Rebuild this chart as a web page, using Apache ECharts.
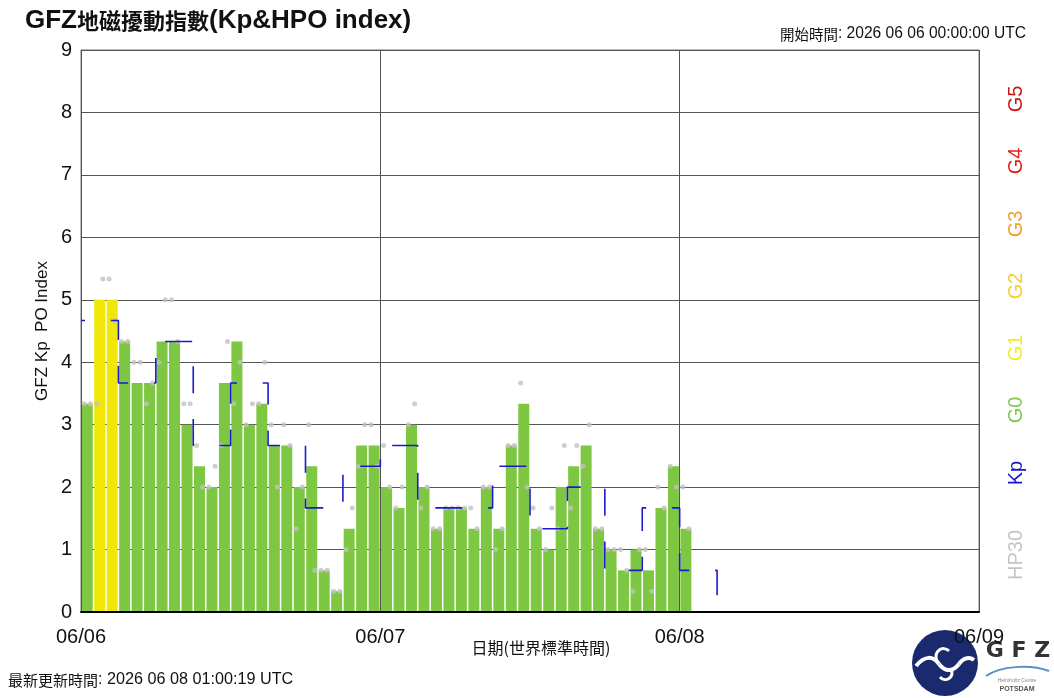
<!DOCTYPE html>
<html>
<head>
<meta charset="utf-8">
<script src="https://cdn.jsdelivr.net/npm/echarts@6/dist/echarts.min.js"></script>
<style>
html,body{margin:0;padding:0;background:#fff;}
#c{width:1054px;height:698px;}
</style>
</head>
<body>
<div id="c"></div>
<script>
// ---- data (hours counted from 2026-06-06 00:00 UTC) ----
const dayLabels = ['06/06', '06/07', '06/08', '06/09'];
// HP60 (hourly) – bars
const hp60 = [3.333, 5, 5, 4.333, 3.667, 3.667, 4.333, 4.333, 3, 2.333,
  2, 3.667, 4.333, 3, 3.333, 2.667, 2.667, 2, 2.333, 0.667,
  0.333, 1.333, 2.667, 2.667, 2, 1.667, 3, 2, 1.333, 1.667,
  1.667, 1.333, 2, 1.333, 2.667, 3.333, 1.333, 1, 2, 2.333,
  2.667, 1.333, 1, 0.667, 1, 0.667, 1.667, 2.333, 1.333];
// HP30 (half-hourly) – grey dots
const hp30 = [3.333, 3.333, 3.333, 5.333, 5.333, 4.667, 4.333, 4.333, 4, 4,
  3.333, 3.667, 4, 5, 5, 4.333, 3.333, 3.333, 2.667, 2,
  2, 2.333, 2.667, 4.333, 3.333, 4, 3, 3.333, 3.333, 4,
  3, 2, 3, 2.667, 1.333, 2, 3, 0.667, 0.667, 0.667,
  0.333, 0.333, 1, 1.667, 2.333, 3, 3, 2.333, 2.667, 2,
  1.667, 2, 3, 3.333, 1.667, 2, 1.333, 1.333, 1.667, 1.667,
  1.667, 1.667, 1.667, 1.333, 2, 2, 1, 1.333, 2.667, 2.667,
  3.667, 2, 1.667, 1.333, 1, 1.667, 1.333, 2.667, 1.667, 2.667,
  2.333, 3, 1.333, 1.333, 1, 1, 1, 0.667, 0.333, 1,
  1, 0.333, 2, 1.667, 2.333, 2, 2, 1.333];
// Kp (3-hourly) – blue step line
const kp = [4.667, 3.667, 4.333, 2.667, 3.667, 2.667, 1.667, 2.333,
  2.667, 1.667, 1.667, 2.333, 1.333, 2, 0.667, 1.667,
  0.667, 0];
const sideLabels = ['G5', 'G4', 'G3', 'G2', 'G1', 'G0', 'Kp', 'HP30'];
const sideColors = ['#d01414', '#e81c1c', '#f0a030', '#f5cf2c', '#eeee22', '#80c850', '#1414d0', '#c4c4c4'];
const sideCenters = [99, 161, 224, 286, 348, 410, 473, 555];

function gColor(v) {
  if (v >= 9) return '#a00000';
  if (v >= 8) return '#e01010';
  if (v >= 7) return '#f08020';
  if (v >= 6) return '#f5c518';
  if (v >= 5) return '#f0e60a';
  return '#7ec742';
}

const barData = hp60.map((v, i) => ({ value: [i + 0.5, v], itemStyle: { color: gColor(v) } }));
const dotData = hp30.map((v, i) => [i * 0.5 + 0.25, v]);
const kpData = kp.map((v, i) => [i * 3, v]);

const chart = echarts.init(document.getElementById('c'), null, { renderer: 'canvas' });

function curve(x1, y1, c1x, c1y, c2x, c2y, x2, y2, w, color) {
  return { type: 'bezierCurve',
    shape: { x1: x1, y1: y1, cpx1: c1x, cpy1: c1y, cpx2: c2x, cpy2: c2y, x2: x2, y2: y2 },
    style: { stroke: color, lineWidth: w, fill: null } };
}

const graphics = [
  {
    type: 'text', x: 25, y: 21,
    style: {
      text: '{l|GFZ}{c|地磁擾動指數}{l|(Kp&HPO index)}',
      verticalAlign: 'middle', align: 'left',
      rich: {
        l: { fontFamily: 'Liberation Sans', fontWeight: 'bold', fontSize: 26, fill: '#111' },
        c: { fontFamily: 'Noto Sans CJK TC', fontWeight: 'bold', fontSize: 22, fill: '#111' }
      }
    }
  },
  {
    type: 'text', x: 1026, y: 34,
    style: {
      text: '{c|開始時間}{l|: 2026 06 06 00:00:00 UTC}',
      align: 'right', verticalAlign: 'middle',
      rich: {
        l: { fontFamily: 'Liberation Sans', fontSize: 15.6, fill: '#111' },
        c: { fontFamily: 'Noto Sans CJK TC', fontSize: 14.5, fill: '#111' }
      }
    }
  },
  {
    type: 'text', x: 8, y: 680,
    style: {
      text: '{c|最新更新時間}{l|: 2026 06 08 01:00:19 UTC}',
      align: 'left', verticalAlign: 'middle',
      rich: {
        l: { fontFamily: 'Liberation Sans', fontSize: 16.2, fill: '#111' },
        c: { fontFamily: 'Noto Sans CJK TC', fontSize: 15, fill: '#111' }
      }
    }
  },
  {
    type: 'text', x: 541, y: 648,
    style: {
      text: '日期(世界標準時間)', align: 'center', verticalAlign: 'middle',
      font: '16px "Noto Sans CJK TC"', fill: '#111'
    }
  },
  // GFZ logo
  {
    type: 'group', x: 945, y: 663,
    children: [
      { type: 'circle', shape: { cx: 0, cy: 0, r: 33 }, style: { fill: '#1b2a6e' } },
      curve(-29, 3, -20, -8, -12, -7, -6, 1, 4, '#fff'),
      curve(-6, 1, 0, 9, 8, 9, 14, 1, 4, '#fff'),
      curve(14, 1, 19, -6, 25, -6, 29, -3, 4, '#fff'),
      curve(-8, -2, -12, -12, -2, -18, 4, -12, 3, '#fff'),
      curve(6, 5, 10, 15, 0, 20, -5, 14, 3, '#fff')
    ]
  },
  {
    type: 'text', x: 1018, y: 651,
    style: { text: 'G F Z', align: 'center', verticalAlign: 'middle', font: 'bold 22px "DejaVu Sans"', fill: '#333' }
  },
  curve(986, 676, 1000, 666, 1030, 664, 1049, 671, 2, '#5a8fc8'),
  {
    type: 'text', x: 1017, y: 681,
    style: { text: 'Helmholtz Centre', align: 'center', verticalAlign: 'middle', font: '5px "Liberation Sans"', fill: '#888' }
  },
  {
    type: 'text', x: 1017, y: 689,
    style: { text: 'POTSDAM', align: 'center', verticalAlign: 'middle', font: 'bold 7px "Liberation Sans"', fill: '#555' }
  }
];

sideLabels.forEach((t, i) => {
  graphics.push({
    type: 'text', x: 1016, y: sideCenters[i], rotation: Math.PI / 2,
    style: { text: t, align: 'center', verticalAlign: 'middle', font: '20px "Liberation Sans"', fill: sideColors[i] }
  });
});

const option = {
  animation: false,
  backgroundColor: '#fff',
  grid: { left: 81, right: 75, top: 50, bottom: 86, show: true, borderColor: '#777', borderWidth: 1 },
  xAxis: {
    type: 'value', min: 0, max: 72, interval: 24, z: 3,
    axisLine: { show: true, onZero: false, lineStyle: { color: '#000', width: 2 } },
    axisTick: { show: false },
    splitLine: { show: true, lineStyle: { color: '#555', width: 1 } },
    axisLabel: {
      formatter: v => dayLabels[Math.round(v / 24)],
      fontFamily: 'Liberation Sans', fontSize: 20, color: '#111', margin: 15
    }
  },
  yAxis: {
    type: 'value', min: 0, max: 9, interval: 1,
    name: 'GFZ Kp  PO Index', nameLocation: 'middle', nameGap: 30, nameMoveOverlap: false,
    nameTextStyle: { fontFamily: 'Liberation Sans', fontSize: 17, color: '#111' },
    axisLine: { show: true, lineStyle: { color: '#777', width: 1 } },
    axisTick: { show: false },
    splitLine: { show: true, lineStyle: { color: '#555', width: 1 } },
    axisLabel: { fontFamily: 'Liberation Sans', fontSize: 20, color: '#111', margin: 9 }
  },
  graphic: graphics,
  series: [
    { type: 'bar', data: barData, barWidth: 11, z: 2 },
    { type: 'scatter', data: dotData, symbol: 'circle', symbolSize: 5,
      itemStyle: { color: '#c2c2c2' }, z: 4 },
    { type: 'line', data: kpData, step: 'end', symbol: 'none', z: 5,
      lineStyle: { color: '#1a1ad0', width: 1.6, type: [27, 25.8], dashOffset: 23 } }
  ]
};
chart.setOption(option);
</script>
</body>
</html>
